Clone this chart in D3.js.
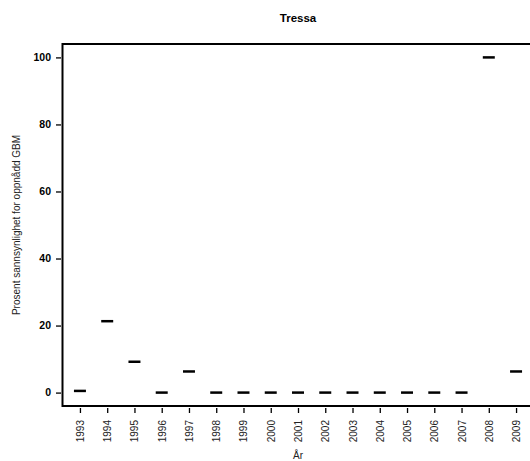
<!DOCTYPE html>
<html>
<head>
<meta charset="utf-8">
<script src="https://cdn.jsdelivr.net/npm/d3@7"></script>
<style>
  body { margin: 0; background: #fff; }
  svg { display: block; }
  text { font-family: "Liberation Sans", Arial, sans-serif; }
</style>
</head>
<body>
<svg id="chart" width="530" height="461"></svg>
<script>
const years = [1993,1994,1995,1996,1997,1998,1999,2000,2001,2002,2003,2004,2005,2006,2007,2008,2009];
const values = [0.5,21.3,9.2,0,6.3,0,0,0,0,0,0,0,0,0,0,100,6.3];
const yTicks = [0,20,40,60,80,100];
const chartTitle = "Tressa";
const xTitle = "År";
const yTitle = "Prosent sannsynlighet for oppnådd GBM";

(function () {
const svg = d3.select("#chart");
const pLeft = 62.5, pRight = 533.5, pTop = 44, pBottom = 406;

const x = d3.scaleLinear().domain([1993 - 0.64, 2009 + 0.64]).range([pLeft, pRight]);
const y = d3.scaleLinear().domain([-4, 104]).range([pBottom, pTop]);

// box
svg.append("rect")
  .attr("x", pLeft).attr("y", pTop)
  .attr("width", pRight - pLeft).attr("height", pBottom - pTop)
  .attr("fill", "none").attr("stroke", "#000").attr("stroke-width", 2);

// marks
svg.append("g").selectAll("line")
  .data(years.map((d, i) => ({year: d, v: values[i]})))
  .join("line")
  .attr("x1", d => x(d.year - 0.22))
  .attr("x2", d => x(d.year + 0.22))
  .attr("y1", d => y(d.v))
  .attr("y2", d => y(d.v))
  .attr("stroke", "#000")
  .attr("stroke-width", 2.5);

// x axis
const xa = svg.append("g")
  .attr("transform", `translate(0,${pBottom + 2})`)
  .call(d3.axisBottom(x).tickValues(years).tickFormat(d3.format("d")).tickSize(5));
xa.select(".domain").remove();
xa.selectAll(".tick line").attr("stroke", "#000").attr("stroke-width", 1.3);
xa.selectAll(".tick text")
  .attr("transform", "rotate(-90)")
  .attr("x", -12).attr("y", 0).attr("dy", "0.35em")
  .attr("text-anchor", "end")
  .attr("font-size", 10)
  .attr("fill", "#222")
  .style("font-family", "'Liberation Sans', Arial, sans-serif");

// y axis
const ya = svg.append("g")
  .attr("transform", `translate(${pLeft - 1.5},0)`)
  .call(d3.axisLeft(y).tickValues(yTicks).tickSize(5).tickPadding(5));
ya.select(".domain").remove();
ya.selectAll(".tick line").attr("stroke", "#000").attr("stroke-width", 1.3);
ya.selectAll(".tick text")
  .attr("font-size", 10.5)
  .attr("font-weight", "bold")
  .attr("fill", "#000")
  .style("font-family", "'Liberation Sans', Arial, sans-serif");

// titles
svg.append("text")
  .attr("x", (pLeft + pRight) / 2).attr("y", 22)
  .attr("text-anchor", "middle")
  .attr("font-size", 11.5).attr("font-weight", "bold")
  .text(chartTitle);

svg.append("text")
  .attr("x", (pLeft + pRight) / 2).attr("y", 459)
  .attr("text-anchor", "middle")
  .attr("font-size", 10)
  .attr("fill", "#222")
  .text(xTitle);

svg.append("text")
  .attr("transform", `translate(20,${(pTop + pBottom) / 2}) rotate(-90)`)
  .attr("text-anchor", "middle")
  .attr("font-size", 10)
  .attr("fill", "#222")
  .text(yTitle);
})();
</script>
</body>
</html>
